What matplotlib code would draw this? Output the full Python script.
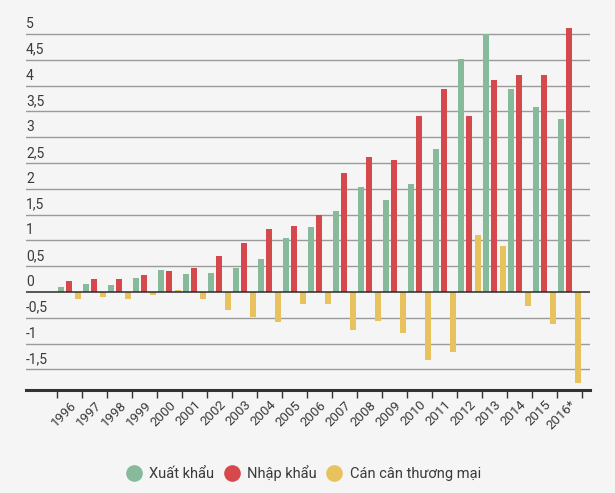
import matplotlib
matplotlib.use("Agg")
import matplotlib.pyplot as plt
from matplotlib.lines import Line2D
from matplotlib.transforms import blended_transform_factory, offset_copy
import numpy as np

plt.rcParams['font.family'] = ['Roboto', 'DejaVu Sans']

years = ["1996", "1997", "1998", "1999", "2000", "2001", "2002", "2003", "2004",
         "2005", "2006", "2007", "2008", "2009", "2010", "2011", "2012", "2013",
         "2014", "2015", "2016*"]
exports = [0.09, 0.15, 0.13, 0.27, 0.42, 0.34, 0.36, 0.47, 0.63, 1.04, 1.25,
           1.57, 2.04, 1.79, 2.10, 2.78, 4.51, 5.00, 3.93, 3.59, 3.35]
imports = [0.21, 0.25, 0.26, 0.32, 0.40, 0.47, 0.69, 0.94, 1.23, 1.27, 1.50,
           2.30, 2.61, 2.56, 3.42, 3.93, 3.42, 4.11, 4.21, 4.21, 5.12]
balance = [-0.13, -0.10, -0.14, -0.06, 0.04, -0.14, -0.34, -0.48, -0.59, -0.23, -0.23,
           -0.74, -0.57, -0.80, -1.32, -1.16, 1.10, 0.90, -0.28, -0.63, -1.77]
series_names = ["Xuất khẩu", "Nhập khẩu", "Cán cân thương mại"]
ytick_values = [-1.5, -1, -0.5, 0, 0.5, 1, 1.5, 2, 2.5, 3, 3.5, 4, 4.5, 5]
ytick_labels = ["-1,5", "-1", "-0,5", "0", "0,5", "1", "1,5", "2", "2,5", "3",
                "3,5", "4", "4,5", "5"]

c_green = "#87b99b"
c_red = "#d5494d"
c_yellow = "#e8c25c"
bg = "#f5f5f5"
txt = "#3a3a3a"

fig = plt.figure(figsize=(6.15, 4.93), dpi=100, facecolor=bg)
ax = fig.add_axes([26/615, 1-390/493, (590-26)/615, (390-18.5)/493])
ax.set_facecolor(bg)

x = np.arange(len(years))
w = 0.25
ax.bar(x - 0.355, exports, w, color=c_green, zorder=3)
ax.bar(x - 0.02, imports, w, color=c_red, zorder=3)
ax.bar(x + 0.315, balance, w, color=c_yellow, zorder=3)

ax.set_xlim(-1.752, 20.81)
ax.set_ylim(-1.9, 5.3)

# gridlines
for v in ytick_values:
    if v == 0:
        ax.axhline(0, color="#2b2b2b", lw=1.1, zorder=4)
    else:
        ax.axhline(v, color="#9a9a9a", lw=1.0, zorder=1)

# y labels above gridlines
tr = offset_copy(blended_transform_factory(ax.transAxes, ax.transData), fig=fig, x=0, y=3, units='dots')
for v, lab in zip(ytick_values, ytick_labels):
    ax.text(0.0, v, lab, transform=tr, ha='left', va='bottom', fontsize=10, color=txt)

for s in ['top', 'left', 'right']:
    ax.spines[s].set_visible(False)
ax.spines['bottom'].set_color("#333333")
ax.spines['bottom'].set_linewidth(2.2)
ax.set_yticks([])

# ticks at group boundaries, labels at group centers
ax.set_xticks(np.arange(len(years) + 1) - 0.5)
ax.set_xticklabels([])
ax.tick_params(axis='x', which='major', length=6, width=1, color="#333333", direction='out')
ax.set_xticks(x, minor=True)
ax.set_xticklabels(years, minor=True, rotation=45, ha='right', va='top',
                   rotation_mode='anchor', fontsize=9.5, color=txt)
ax.tick_params(axis='x', which='minor', length=0, pad=6)

handles = [Line2D([], [], marker='o', ls='', markersize=12, color=c, markeredgewidth=0)
           for c in (c_green, c_red, c_yellow)]
leg = fig.legend(handles, series_names, loc='center', bbox_to_anchor=(0.494, 0.041),
                 ncol=3, frameon=False, fontsize=10.5, handletextpad=0.55,
                 columnspacing=0.7, handlelength=1.0)
for t in leg.get_texts():
    t.set_color(txt)

fig.savefig("out.png", dpi=100, facecolor=bg)
